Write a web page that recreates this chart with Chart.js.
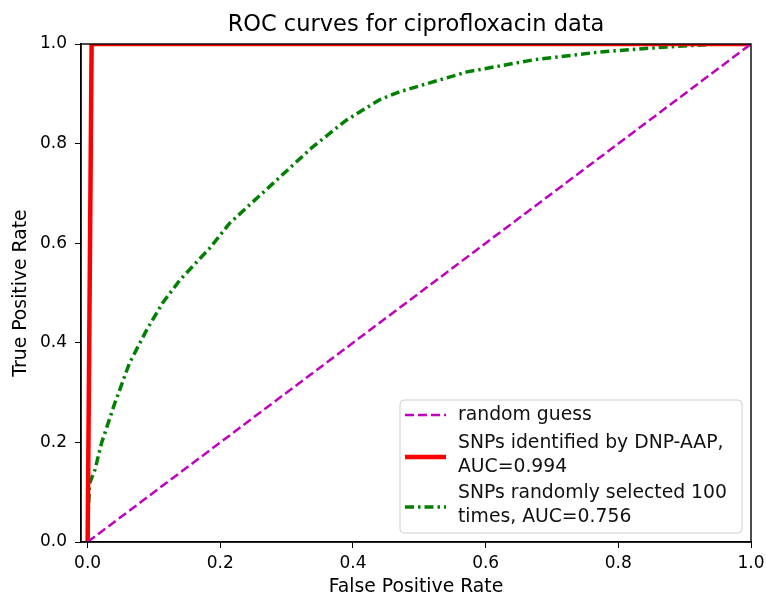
<!DOCTYPE html>
<html>
<head>
<meta charset="utf-8">
<script src="https://cdn.jsdelivr.net/npm/chart.js@4"></script>
<style>
  html, body { margin: 0; padding: 0; background: #fff; }
  #wrap { width: 766px; height: 598px; }
</style>
</head>
<body>
<div id="wrap"><canvas id="rocChart" width="766" height="598"></canvas></div>
<script>
// ROC data
const fprRandom = [0, 1];
const tprRandom = [0, 1];

const fprDnp = [0, 0.006, 1];
const tprDnp = [0, 1, 1];

const fprRand100 = [0, 0.001, 0.003, 0.011, 0.021, 0.041, 0.063, 0.089, 0.113, 0.139, 0.184, 0.214,
                    0.29, 0.339, 0.39, 0.44, 0.47, 0.531, 0.572, 0.671, 0.772, 0.873, 0.95, 1.0];
const tprRand100 = [0, 0.06, 0.118, 0.145, 0.199, 0.279, 0.359, 0.426, 0.48, 0.526, 0.59, 0.64,
                    0.733, 0.793, 0.847, 0.888, 0.904, 0.928, 0.944, 0.968, 0.984, 0.994, 1.0, 1.0];

const tickValues = [0, 0.2, 0.4, 0.6, 0.8, 1.0];
const legendLabels = [
    ["random guess"],
    ["SNPs identified by DNP-AAP,", "AUC=0.994"],
    ["SNPs randomly selected 100", "times, AUC=0.756"]
];

const FONT = "'DejaVu Sans', sans-serif";
const toPoints = (xs, ys) => xs.map((x, i) => ({ x: x, y: ys[i] }));

// frame, title and the matplotlib-style legend
const decorations = {
    id: "decorations",
    afterDraw(chart) {
        const ctx = chart.ctx;
        const a = chart.chartArea;
        ctx.save();

        ctx.strokeStyle = "#000";
        ctx.lineWidth = 1.4;
        ctx.strokeRect(a.left, a.top, a.right - a.left, a.bottom - a.top);

        ctx.fillStyle = "#000";
        ctx.font = "22.5px " + FONT;
        ctx.textAlign = "center";
        ctx.textBaseline = "alphabetic";
        ctx.fillText("ROC curves for ciprofloxacin data", (a.left + a.right) / 2, 31);

        // legend box
        const w = 342, h = 133;
        const bx = a.right - 9 - w, by = a.bottom - 9 - h;
        ctx.beginPath();
        ctx.roundRect(bx, by, w, h, 4);
        ctx.fillStyle = "rgba(255,255,255,0.8)";
        ctx.fill();
        ctx.strokeStyle = "#d0d0d0";
        ctx.lineWidth = 1;
        ctx.stroke();

        const rows = [
            { handle: 15, lines: [15] },
            { handle: 57, lines: [43, 67] },
            { handle: 107, lines: [93, 117] }
        ];
        ctx.font = "18.8px " + FONT;
        ctx.textAlign = "left";
        ctx.textBaseline = "middle";
        chart.data.datasets.forEach((ds, i) => {
            const r = rows[i];
            ctx.beginPath();
            ctx.setLineDash(ds.borderDash || []);
            ctx.strokeStyle = ds.borderColor;
            ctx.lineWidth = ds.borderWidth;
            ctx.moveTo(bx + 5, by + r.handle);
            ctx.lineTo(bx + 46, by + r.handle);
            ctx.stroke();
            ctx.setLineDash([]);
            ctx.fillStyle = "#111";
            legendLabels[i].forEach((t, j) => ctx.fillText(t, bx + 58, by + r.lines[j]));
        });
        ctx.restore();
    }
};

const ctx = document.getElementById("rocChart").getContext("2d");
new Chart(ctx, {
    type: "scatter",
    data: {
        datasets: [
            {
                label: legendLabels[0].join(" "),
                data: toPoints(fprRandom, tprRandom),
                borderColor: "#bf00bf",
                borderWidth: 2.5,
                borderDash: [9, 4]
            },
            {
                label: legendLabels[1].join(" "),
                data: toPoints(fprDnp, tprDnp),
                borderColor: "#ff0000",
                borderWidth: 4.5
            },
            {
                label: legendLabels[2].join(" "),
                data: toPoints(fprRand100, tprRand100),
                borderColor: "#008000",
                borderWidth: 3.5,
                borderDash: [9, 4, 2.5, 4]
            }
        ].map(ds => Object.assign(ds, { showLine: true, pointRadius: 0, tension: 0, fill: false, clip: 0 }))
    },
    options: {
        responsive: false,
        animation: false,
        layout: { padding: { top: 44, right: 15, left: 0, bottom: 0 } },
        plugins: {
            legend: { display: false },
            tooltip: { enabled: false }
        },
        scales: {
            x: {
                type: "linear",
                min: -0.01,
                max: 1.0,
                afterBuildTicks: scale => { scale.ticks = tickValues.map(v => ({ value: v })); },
                afterFit: scale => {
                    scale.height = 56;
                    scale.paddingLeft = 0;
                    scale.paddingRight = 0;
                },
                ticks: {
                    color: "#000",
                    font: { family: FONT, size: 17 },
                    padding: 5,
                    maxRotation: 0,
                    callback: v => v.toFixed(1)
                },
                grid: { drawOnChartArea: false, drawTicks: true, tickLength: 6, color: "#000" },
                border: { display: true, color: "#000", width: 1.4 },
                title: {
                    display: true,
                    text: "False Positive Rate",
                    color: "#000",
                    font: { family: FONT, size: 18.8 },
                    padding: { top: 0, bottom: 0 }
                }
            },
            y: {
                type: "linear",
                min: 0,
                max: 1.0,
                afterBuildTicks: scale => { scale.ticks = tickValues.map(v => ({ value: v })); },
                afterFit: scale => {
                    scale.width = 81;
                    scale.paddingTop = 0;
                    scale.paddingBottom = 0;
                },
                ticks: {
                    color: "#000",
                    font: { family: FONT, size: 17 },
                    padding: 8,
                    callback: v => v.toFixed(1)
                },
                grid: { drawOnChartArea: false, drawTicks: true, tickLength: 6, color: "#000" },
                border: { display: true, color: "#000", width: 1.4 },
                title: {
                    display: true,
                    text: "True Positive Rate",
                    color: "#000",
                    font: { family: FONT, size: 18.8 },
                    padding: { top: 10, bottom: 0 }
                }
            }
        }
    },
    plugins: [decorations]
});
</script>
</body>
</html>
